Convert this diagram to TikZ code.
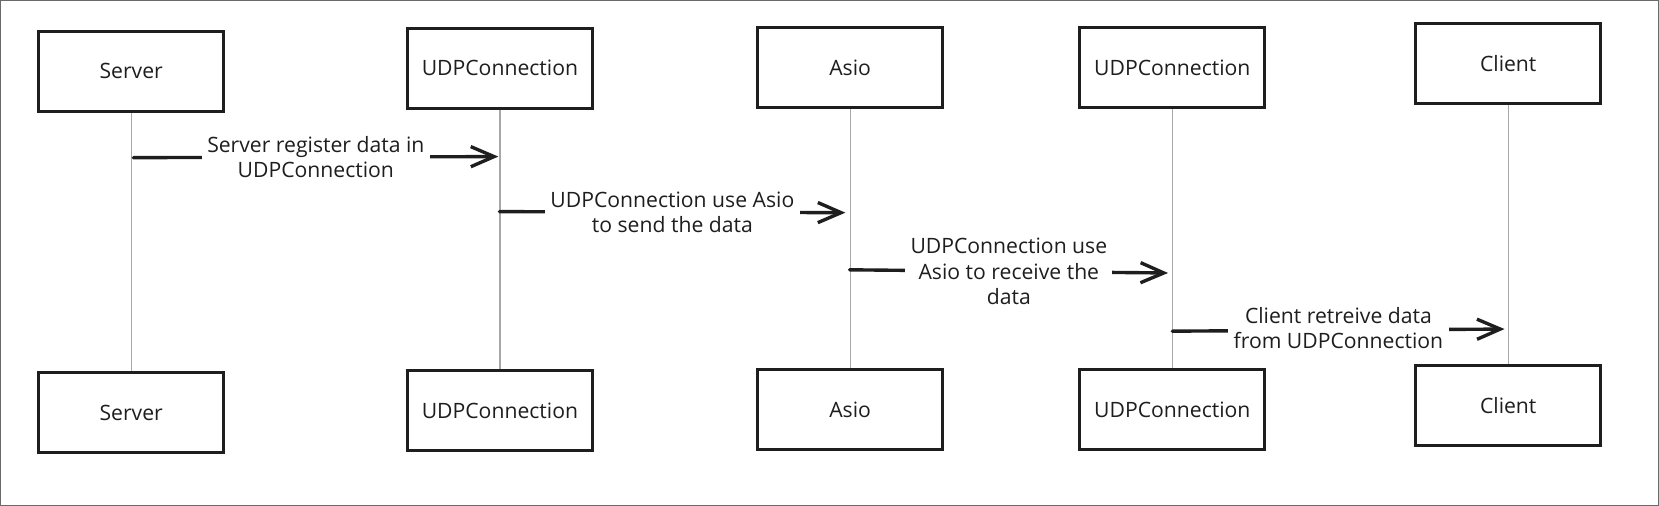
\documentclass[tikz,border=0pt]{standalone}
\usepackage{fontspec}
\setmainfont{Open Sans}
\usetikzlibrary{arrows.meta}
\definecolor{ink}{HTML}{1E1E1E}
\definecolor{life}{HTML}{A8A8A8}
\definecolor{framec}{HTML}{6A6A6A}
\begin{document}
\begin{tikzpicture}[x=0.5pt,y=-0.5pt,
  actor/.style={draw=ink, line width=1.4pt, fill=white, minimum width=87.5pt, minimum height=38pt, inner sep=0pt, font=\fontsize{10}{12}\selectfont, text=ink},
  lifeline/.style={draw=life, line width=0.6pt},
  msg/.style={draw=ink, line width=1.6pt, line cap=round, -{Straight Barb[length=11pt,width=9.5pt,line width=1.6pt]}},
  lbl/.style={fill=white, align=center, inner sep=2.5pt, font=\fontsize{10}{12}\selectfont, text=ink}
]
\useasboundingbox (0,0) rectangle (1568,478);
\draw[framec, line width=0.6pt] (0.5,0.5) rectangle (1567.5,477.5);

\node[actor] (s1) at (124,67.5) {Server};
\node[actor] (s2) at (124,390) {Server};
\node[actor] (u1) at (472.5,64.5) {UDPConnection};
\node[actor] (u2) at (472.5,388) {UDPConnection};
\node[actor] (a1) at (803.5,64) {Asio};
\node[actor] (a2) at (803.5,387) {Asio};
\node[actor] (v1) at (1108,64) {UDPConnection};
\node[actor] (v2) at (1108,387) {UDPConnection};
\node[actor] (c1) at (1425.5,60) {Client};
\node[actor] (c2) at (1425.5,383) {Client};

\draw[lifeline] (s1.south) -- (s2.north);
\draw[lifeline] (u1.south) -- (u2.north);
\draw[lifeline] (a1.south) -- (a2.north);
\draw[lifeline] (v1.south) -- (v2.north);
\draw[lifeline] (c1.south) -- (c2.north);

\coordinate (m1s) at (126,149);
\coordinate (m1e) at (471,148);
\coordinate (m2s) at (472,200);
\coordinate (m2e) at (799,201);
\coordinate (m3s) at (803,255);
\coordinate (m3e) at (1104,258);
\coordinate (m4s) at (1108,313);
\coordinate (m4e) at (1422,311);

\draw[msg] (m1s) -- (m1e) node[midway, lbl] {Server register data in\\UDPConnection};
\draw[msg] (m2s) -- (m2e) node[midway, lbl] {UDPConnection use Asio\\to send the data};
\draw[msg] (m3s) -- (m3e) node[midway, lbl] {UDPConnection use\\Asio to receive the\\data};
\draw[msg] (m4s) -- (m4e) node[midway, lbl, yshift=1pt] {Client retreive data\\from UDPConnection};
\end{tikzpicture}
\end{document}
